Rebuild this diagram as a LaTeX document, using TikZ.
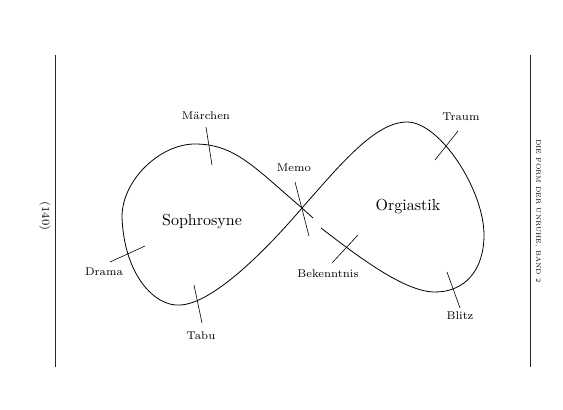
\documentclass[tikz,border=0pt]{standalone}
\usepackage{tikz}
\usetikzlibrary{calc}

\tikzset{
  loopline/.style={line width=0.8pt},
  tick/.style={line width=0.6pt},
  word/.style={font=\scriptsize, scale=1.6, inner sep=0pt},
  pole/.style={font=\normalsize, scale=1.6, inner sep=0pt},
  margin/.style={line width=0.6pt, black!85},
}

\begin{document}
\begin{tikzpicture}[x=1pt,y=-1pt]
  \useasboundingbox (0,0) rectangle (563,410);

  % page margins
  \coordinate (lt) at (55,55);  \coordinate (lb) at (55,367);
  \coordinate (rt) at (530,55); \coordinate (rb) at (530,367);
  \draw[margin] (lt) -- (lb);
  \draw[margin] (rt) -- (rb);
  \node[font=\scriptsize, scale=1.6, rotate=-90] (page) at (45,216) {(140)};
  \node[font=\fontsize{4}{5}\selectfont, scale=1.6, rotate=-90] (title) at (538,211) {DIE FORM DER UNRUHE, BAND 2};

  % the lying eight
  \coordinate (cross) at (302,208);
  \coordinate (gapA) at (313,218);
  \coordinate (gapB) at (321,228);
  \draw[loopline] (gapA) -- (cross)
    .. controls (255,168) and (235,144) .. (195,144)
    .. controls (160,144) and (122,180) .. (122,217)
    .. controls (124,275) and (155,307) .. (180,305)
    .. controls (208,304) and (254,264) .. (cross)
    .. controls (340,165) and (375,122) .. (407,122)
    .. controls (440,122) and (484,190) .. (484,235)
    .. controls (484,270) and (465,292) .. (435,292)
    .. controls (405,292) and (360,258) .. (gapB);

  % the two poles
  \node[pole] (sophrosyne) at (202,221) {Sophrosyne};
  \node[pole] (orgiastik) at (408,207) {Orgiastik};

  % marks on the curve
  \coordinate (maerchen-a) at (206,127);   \coordinate (maerchen-b) at (212,165);
  \coordinate (drama-a) at (110,262);      \coordinate (drama-b) at (145,246);
  \coordinate (tabu-a) at (194,285);       \coordinate (tabu-b) at (202,323);
  \coordinate (memo-a) at (295,182);       \coordinate (memo-b) at (309,236);
  \coordinate (bekenntnis-a) at (332,263); \coordinate (bekenntnis-b) at (358,235);
  \coordinate (traum-a) at (435,160);      \coordinate (traum-b) at (458,131);
  \coordinate (blitz-a) at (447,272);      \coordinate (blitz-b) at (460,308);

  \draw[tick] (maerchen-a) -- (maerchen-b);
  \draw[tick] (drama-a) -- (drama-b);
  \draw[tick] (tabu-a) -- (tabu-b);
  \draw[tick] (memo-a) -- (memo-b);
  \draw[tick] (bekenntnis-a) -- (bekenntnis-b);
  \draw[tick] (traum-a) -- (traum-b);
  \draw[tick] (blitz-a) -- (blitz-b);

  \node[word] (maerchen) at (206,116) {Märchen};
  \node[word] (drama) at (104,272) {Drama};
  \node[word] (tabu) at (201,336) {Tabu};
  \node[word] (memo) at (294,168) {Memo};
  \node[word] (bekenntnis) at (328,274) {Bekenntnis};
  \node[word] (traum) at (461,117) {Traum};
  \node[word] (blitz) at (460,316) {Blitz};
\end{tikzpicture}
\end{document}
